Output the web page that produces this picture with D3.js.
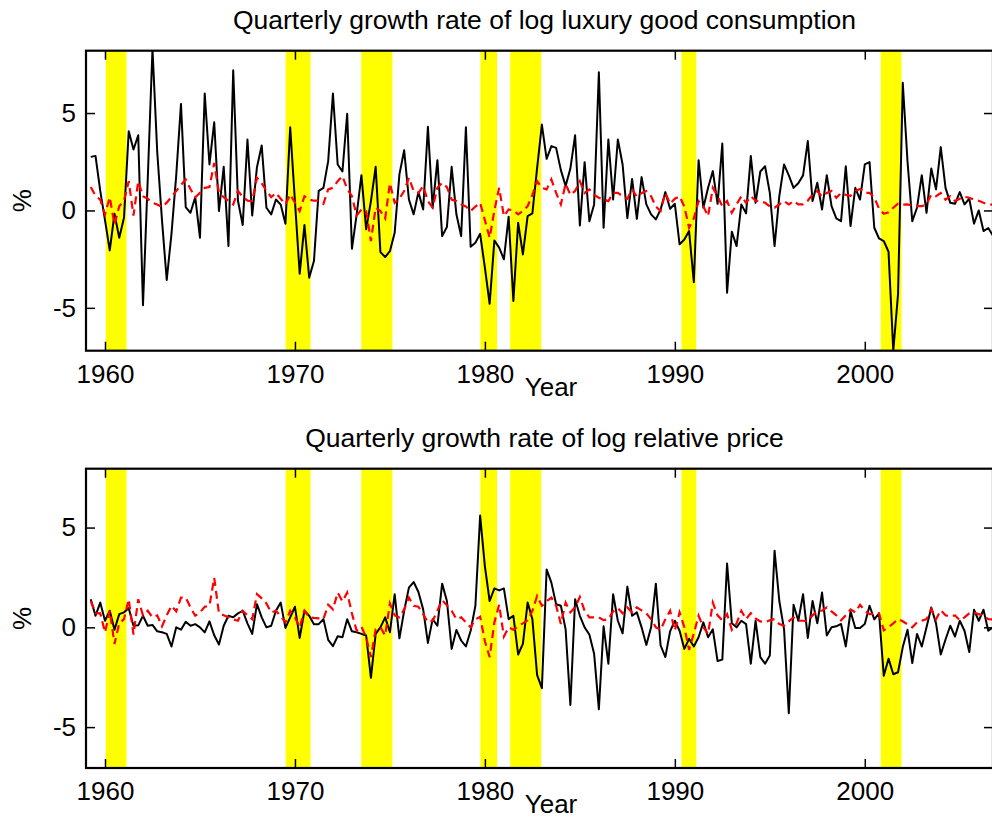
<!DOCTYPE html>
<html>
<head>
<meta charset="utf-8">
<script src="https://cdn.jsdelivr.net/npm/d3@7"></script>
<style>
  body { margin: 0; background: #fff; }
  text { font-family: "Liberation Sans", Arial, sans-serif; fill: #000; }
  .tick line { stroke: #000; stroke-width: 1.5; }
</style>
</head>
<body>
<script>
// quarterly observations, first one is 1959Q2
const startYear = 1959.25;

// growth rate of log luxury good consumption (black) and its fit (red dashed)
const luxCons = [
  2.75, 2.8, 1.0, -0.5, -2.05, -0.17, -1.4, -0.38, 4.07, 3.13,
  3.86, -4.87, 1.6, 8.3, 3.0, -0.5, -3.57, -1.2, 1.8, 5.47,
  0.17, -0.12, 0.68, -1.4, 6.0, 2.36, 4.53, -0.03, 2.24, -1.83,
  7.2, 0.5, -0.75, 3.64, -0.26, 2.22, 3.33, 0.14, -0.2, 0.56,
  0.3, -0.68, 4.27, 0.48, -3.25, -0.75, -3.45, -2.6, 1.0, 1.16,
  2.53, 6.0, 2.36, 2.0, 4.96, -1.97, -0.2, 1.81, -0.97, 0.48,
  2.24, -2.14, -2.39, -2.09, -1.15, 1.85, 3.09, 0.56, -0.2, 0.94,
  0.05, 4.29, 0.14, 2.58, -1.32, -0.85, 2.24, -0.2, -1.32, 4.27,
  -1.86, -1.66, -1.2, -2.94, -4.79, -1.54, -1.91, -2.51, -0.32, -4.65,
  -0.63, -2.26, -0.29, -0.15, 2.19, 4.41, 2.65, 3.3, 3.21, 2.07,
  1.25, 2.15, 3.86, -0.77, 2.48, -0.55, 0.31, 7.09, -0.89, 3.64,
  0.56, 3.64, 2.36, -0.4, 1.62, -0.43, 1.71, 0.31, -0.2, -0.46,
  0.05, 0.94, 0.09, 0.34, -1.74, -1.49, -1.06, -3.68, 2.58, 0.14,
  1.16, 2.02, 0.34, 3.44, -4.22, -1.09, -1.83, 0.31, -0.15, 2.79,
  0.39, 2.0, 2.27, 0.9, -1.83, 0.73, 2.36, 1.8, 1.16, 1.4,
  1.8, 3.56, 0.48, 1.42, 0.05, 1.81, 0.22, -0.41, -0.55, 2.27,
  -0.8, 1.16, 0.56, 2.36, 2.48, -0.89, -1.44, -1.57, -2.12, -7.2,
  -4.31, 6.55, 2.5, -0.55, 0.14, 1.81, -0.12, 2.15, 1.08, 3.25,
  1.16, 0.39, 0.34, 0.94, 0.31, 0.6, -0.68, 0.0, -1.06, -0.9,
  -1.3
];
const luxConsFit = [
  1.2, 0.75, 0.55, -0.2, 0.68, -0.72, 0.22, 0.5, 1.5, -0.26,
  1.5, 0.73, 0.6, 0.4, 0.3, 0.17, 0.4, 0.7, 1.0, 1.3,
  1.59, 1.1, 0.68, 0.9, 1.16, 1.2, 2.44, 0.9, 0.68, 0.5,
  0.31, 1.0, 0.7, 0.5, 0.48, 1.68, 1.4, 1.0, 0.68, 0.9,
  0.6, 0.31, 0.82, 0.4, -0.03, 0.73, 0.56, 0.5, 0.5, 0.34,
  1.08, 1.16, 1.5, 1.76, 1.1, 0.73, -0.26, 0.05, -0.03, -1.57,
  0.14, -0.03, -0.41, 1.4, 0.39, 0.6, 1.0, 1.68, 1.0, 0.9,
  1.25, 0.48, 0.14, 1.16, 1.42, 1.2, 0.56, 0.48, 0.31, 0.2,
  -0.03, 0.2, 0.39, -0.5, -1.4, 0.0, 1.16, -0.29, 0.05, 0.0,
  -0.2, -0.03, 0.22, 0.8, 1.5, 1.16, 1.08, 1.59, 0.9, 0.31,
  1.37, 0.8, 1.0, 1.5, 0.9, 1.08, 0.8, 0.65, 0.56, 0.48,
  0.9, 0.9, 0.73, 0.6, 1.08, 0.7, 0.9, 1.0, 0.73, 0.2,
  -0.03, 0.9, 0.34, 0.6, 0.73, 0.2, -0.89, -0.4, 0.48, 0.22,
  -0.29, 1.16, 0.73, 0.22, 0.48, -0.12, 0.31, 0.73, 0.39, 0.73,
  0.5, 0.48, 0.39, 0.2, 0.14, 0.31, 0.48, 0.31, 0.48, 0.31,
  0.31, 0.5, 0.82, 1.0, 0.7, 0.9, 1.0, 0.65, 0.9, 0.8,
  0.75, 1.0, 1.1, 0.9, 0.9, 0.65, 0.1, -0.17, -0.1, 0.14,
  0.35, 0.3, 0.31, 0.25, 0.22, 0.22, 0.31, 0.82, 0.73, 0.9,
  0.55, 0.73, 0.48, 0.6, 0.7, 0.65, 0.56, 0.5, 0.39, 0.31,
  0.3
];

// growth rate of log relative price (black) and its fit (red dashed)
const relPrice = [
  1.41, 0.58, 1.24, 0.33, 0.83, -0.12, 0.66, 0.75, 0.96, 0.08,
  0.1, 0.58, 0.08, 0.12, -0.2, -0.25, -0.33, -0.96, 0.0, -0.12,
  0.28, 0.08, 0.16, 0.0, -0.25, 0.3, -0.4, -0.86, 0.08, 0.58,
  0.5, 0.7, 0.83, 0.2, -0.33, 1.16, 0.5, 0.0, 0.08, 0.83,
  1.24, -0.03, 0.5, 1.03, -0.53, 0.83, 0.58, 0.16, 0.16, 0.41,
  -0.63, -0.94, -0.45, -0.5, 0.41, -0.2, -0.25, -0.33, -0.41, -2.53,
  -0.33, 0.0, 0.5, -0.25, 1.66, -0.55, 0.83, 1.99, 2.27, 1.77,
  0.9, -0.78, 0.41, 0.08, 2.19, 1.32, -1.08, -0.13, -0.66, -0.96,
  -0.17, 1.08, 5.6, 3.06, 1.32, 1.95, 1.85, 1.95, 0.41, 0.58,
  -1.36, -0.83, 1.24, 0.41, -2.4, -3.05, 2.9, 2.24, 1.16, 1.08,
  -0.1, -3.89, 1.41, 0.58, 0.0, -0.36, -1.32, -4.1, 0.05, -1.82,
  1.66, 0.33, -0.3, 2.04, 0.58, 0.75, 0.0, -0.88, 0.0, 2.19,
  -0.91, -1.49, -0.2, 0.33, -0.17, -1.08, -0.58, -0.96, -0.5, 0.25,
  -0.5, -0.1, -1.69, -1.62, 3.2, 0.2, 0.0, 0.33, 0.16, -1.82,
  0.33, -1.49, -1.82, -1.41, 3.84, 1.32, -0.1, -4.3, 1.13, 0.33,
  1.66, -0.53, 1.32, 0.2, 1.74, -0.41, 0.0, 0.05, 0.17, -0.96,
  0.8, -0.03, -0.03, 0.17, 1.08, 0.4, 0.7, -2.43, -1.57, -2.35,
  -2.25, -0.99, -0.12, -1.79, -0.33, -0.96, 0.0, 0.99, 0.2, -1.36,
  -0.61, 0.08, -0.46, 0.33, -0.17, -1.24, 0.88, 0.33, 0.88, -0.17,
  0.0
];
const relPriceFit = [
  1.32, 0.71, 0.7, -0.25, 0.83, -0.83, 0.2, 0.41, 1.41, -0.36,
  1.41, 0.6, 0.83, 0.5, 0.6, 0.05, 0.6, 1.08, 0.8, 1.49,
  1.49, 1.0, 0.58, 0.75, 1.03, 1.08, 2.48, 0.7, 0.6, 0.5,
  0.4, 0.33, 0.83, 0.6, 0.41, 1.66, 1.45, 1.2, 0.75, 0.83,
  0.55, 0.25, 0.83, 0.5, 0.0, 0.83, 0.5, 0.47, 0.45, 0.41,
  1.13, 0.9, 1.74, 1.3, 1.74, 0.7, -0.17, 0.03, -0.5, -1.49,
  -0.1, 0.0, -0.41, 1.2, 0.6, 0.5, 0.9, 1.49, 1.08, 1.03,
  0.66, 0.25, 0.33, 0.83, 1.36, 1.1, 0.83, 0.41, 0.5, 0.25,
  0.0, 0.4, 0.53, -0.7, -1.49, 0.25, 1.13, -0.46, 0.0, -0.12,
  0.05, 0.2, 0.36, 0.83, 1.57, 1.08, 1.3, 1.49, 1.08, 0.17,
  1.24, 0.75, 1.0, 1.52, 0.83, 0.5, 0.5, 0.5, 0.36, 0.4,
  0.8, 0.96, 0.7, 1.0, 0.75, 1.0, 0.85, 0.7, 0.41, 0.0,
  -0.12, 0.4, 0.83, -0.17, 0.75, 0.0, -1.13, -0.3, 0.58, 0.0,
  -0.33, 1.24, 0.6, 0.35, 0.66, -0.12, 0.2, 0.83, 0.41, 0.71,
  0.45, 0.3, 0.25, 0.35, 0.41, 0.17, 0.08, 0.3, 0.5, 0.33,
  0.33, 0.3, 0.6, 0.83, 0.83, 1.0, 0.8, 0.6, 0.35, 0.6,
  0.9, 0.75, 1.13, 0.85, 0.66, 0.68, 0.7, -0.15, 0.0, 0.2,
  0.41, 0.3, 0.15, 0.0, 0.25, 0.33, 0.41, 0.91, 0.4, 0.85,
  0.6, 0.55, 0.6, 0.35, 0.5, 0.7, 0.75, 0.66, 0.58, 0.41,
  0.4
];

// shaded recessions, [start, end] in years
const recessions = [
  [1960.04, 1961.13], [1969.51, 1970.82], [1973.49, 1975.13],
  [1979.76, 1980.64], [1981.33, 1982.96], [1990.35, 1991.13],
  [2000.84, 2001.93]
];

const xTicks = [1960, 1970, 1980, 1990, 2000];
const yTicks = [-5, 0, 5];

const svg = d3.select("body").append("svg")
  .attr("width", 992)
  .attr("height", 826);

const x = d3.scaleLinear().domain([1959, 2006.75]).range([86, 993]);
const left = 86, right = 993;

function drawPanel(id, top, bottom, yDomain, title, black, red) {
  const y = d3.scaleLinear().domain(yDomain).range([bottom, top]);

  svg.append("clipPath").attr("id", id)
    .append("rect")
    .attr("x", left).attr("y", top)
    .attr("width", right - left).attr("height", bottom - top);

  const g = svg.append("g");
  const plot = g.append("g").attr("clip-path", "url(#" + id + ")");

  plot.selectAll("rect.rec")
    .data(recessions)
    .enter().append("rect")
    .attr("class", "rec")
    .attr("x", d => x(d[0]))
    .attr("width", d => x(d[1]) - x(d[0]))
    .attr("y", top)
    .attr("height", bottom - top)
    .style("fill", "#ffff00");

  const line = d3.line()
    .x((d, i) => x(startYear + i / 4))
    .y(d => y(d));

  plot.append("path")
    .datum(black)
    .attr("d", line)
    .style("fill", "none")
    .style("stroke", "#000")
    .style("stroke-width", 2)
    .style("stroke-linejoin", "round");

  plot.append("path")
    .datum(red)
    .attr("d", line)
    .style("fill", "none")
    .style("stroke", "#ff0000")
    .style("stroke-width", 2.2)
    .style("stroke-dasharray", "8,5");

  // axes: ticks point inwards on all four sides
  g.append("g")
    .attr("transform", "translate(0," + bottom + ")")
    .call(d3.axisBottom(x).tickValues(xTicks).tickFormat(d => String(d))
      .tickSize(-9).tickSizeOuter(0).tickPadding(14));
  g.append("g")
    .attr("transform", "translate(0," + top + ")")
    .call(d3.axisTop(x).tickValues(xTicks).tickFormat("")
      .tickSize(-9).tickSizeOuter(0));
  g.append("g")
    .attr("transform", "translate(" + left + ",0)")
    .call(d3.axisLeft(y).tickValues(yTicks).tickFormat(d => String(d))
      .tickSize(-9).tickSizeOuter(0).tickPadding(10));
  g.append("g")
    .attr("transform", "translate(" + right + ",0)")
    .call(d3.axisRight(y).tickValues(yTicks).tickFormat("")
      .tickSize(-9).tickSizeOuter(0));

  g.selectAll(".domain").remove();
  g.selectAll(".tick text")
    .style("font-size", "26px")
    .style("font-family", "Liberation Sans, Arial, sans-serif");

  g.append("rect")
    .attr("x", left).attr("y", top)
    .attr("width", right - left).attr("height", bottom - top)
    .style("fill", "none")
    .style("stroke", "#000")
    .style("stroke-width", 2.2);

  g.append("text")
    .attr("x", (left + right) / 2 + 5)
    .attr("y", top - 22)
    .attr("text-anchor", "middle")
    .style("font-size", "26.5px")
    .text(title);

  g.append("text")
    .attr("x", 551)
    .attr("y", bottom + 45)
    .attr("text-anchor", "middle")
    .style("font-size", "26px")
    .text("Year");

  g.append("text")
    .attr("transform", "translate(31," + ((top + bottom) / 2) + ") rotate(-90)")
    .attr("text-anchor", "middle")
    .style("font-size", "26px")
    .text("%");
}

drawPanel("clipTop", 50.7, 350.7, [-7.2, 8.2],
  "Quarterly growth rate of log luxury good consumption", luxCons, luxConsFit);
drawPanel("clipBottom", 468.7, 768, [-7.05, 7.95],
  "Quarterly growth rate of log relative price", relPrice, relPriceFit);
</script>
</body>
</html>
